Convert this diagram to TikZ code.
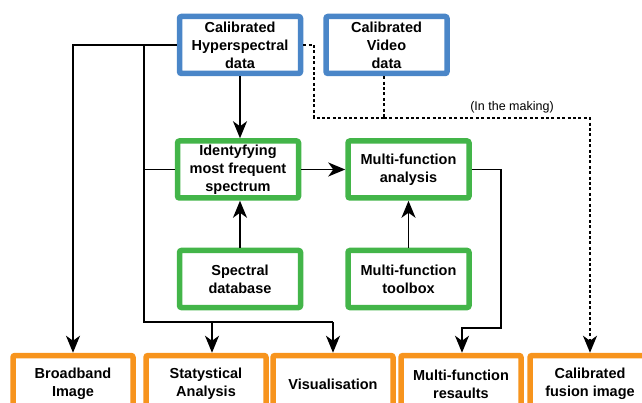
\documentclass[tikz,border=0pt]{standalone}
\usepackage{fontspec}
\setmainfont{Liberation Sans}
\usetikzlibrary{arrows.meta}
\definecolor{boxblue}{RGB}{74,134,200}
\definecolor{boxgreen}{RGB}{67,181,73}
\definecolor{boxorange}{RGB}{247,148,29}
\tikzset{
  blk/.style={draw, line width=5.5pt, rounded corners=2pt, fill=white,
    minimum width=121pt, minimum height=57pt, inner sep=1pt,
    align=center, font=\fontsize{14.5}{18}\selectfont\bfseries},
  srcbox/.style={blk, draw=boxblue},
  procbox/.style={blk, draw=boxgreen},
  outbox/.style={blk, draw=boxorange, minimum width=120pt},
  wire/.style={line width=1.8pt},
  arr/.style={wire, -{Stealth[length=17pt,width=14pt,inset=5pt]}},
  dots/.style={line width=1.9pt, dash pattern=on 3pt off 2.4pt},
  darr/.style={dots, -{Stealth[length=17pt,width=14pt,inset=5pt]}}
}
\begin{document}
\begin{tikzpicture}[x=1pt,y=-1pt]
  \useasboundingbox (0,0) rectangle (642,403);
  \clip (0,0) rectangle (642,403);

  % data sources
  \node[srcbox] (hyp) at (240,45) {Calibrated\\Hyperspectral\\data};
  \node[srcbox] (vid) at (386.5,45) {Calibrated\\Video\\data};

  % processing steps
  \node[procbox] (idf) at (238,169.5) {Identyfying\\most frequent\\spectrum};
  \node[procbox] (mfa) at (408.5,169.5) {Multi-function\\analysis};
  \node[procbox] (sdb) at (240,279) {Spectral\\database};
  \node[procbox] (mft) at (408.5,279) {Multi-function\\toolbox};

  % outputs
  \node[outbox] (bb)  at (73,384)   {Broadband\\Image};
  \node[outbox] (sta) at (206,384)  {Statystical\\Analysis};
  \node[outbox] (vis) at (333,384)  {Visualisation};
  \node[outbox] (mfr) at (461,384)  {Multi-function\\resaults};
  \node[outbox] (fus) at (590,384)  {Calibrated\\fusion image};

  % junction points of the branching wires
  \coordinate (jA) at (73,45);
  \coordinate (jB) at (144,45);
  \coordinate (jC) at (144,322);
  \coordinate (jS) at (212,322);
  \coordinate (jV) at (333,322);
  \coordinate (jR) at (501,169.5);
  \coordinate (jQ) at (501,328);
  \coordinate (jP) at (462,328);
  \coordinate (dA) at (314,45);
  \coordinate (dB) at (314,118);
  \coordinate (dV) at (384,118);
  \coordinate (dF) at (590,118);

  % hyperspectral branches
  \draw[arr] (hyp.west) -- (jA) -- (jA |- bb.north);
  \draw[wire] (jB) |- (idf.west);
  \draw[wire] (jB) -- (jC) -- (jV);
  \draw[arr] (jV) -- (vis.north);
  \draw[arr] (jS) -- (jS |- sta.north);
  \draw[arr] (hyp.south -| 240,0) -- (idf.north -| 240,0);

  % main processing chain
  \draw[arr] (idf.east) -- (mfa.west);
  \draw[arr] (sdb.north) -- (sdb.north |- idf.south);
  \draw[arr] (mft.north) -- (mfa.south);
  \draw[arr] (mfa.east) -- (jR) -- (jQ) -- (jP) -- (jP |- mfr.north);

  % fusion path, not yet built
  \draw[dots] (hyp.east) -- (dA) -- (dB) -- (dV);
  \draw[dots] (dV |- vid.south) -- (dV);
  \draw[darr] (dV) -- (dF) -- (fus.north);
  \node[font=\fontsize{12.5}{14}\selectfont, anchor=south, inner sep=1pt] (mk) at (512,114) {(In the making)};
\end{tikzpicture}
\end{document}
